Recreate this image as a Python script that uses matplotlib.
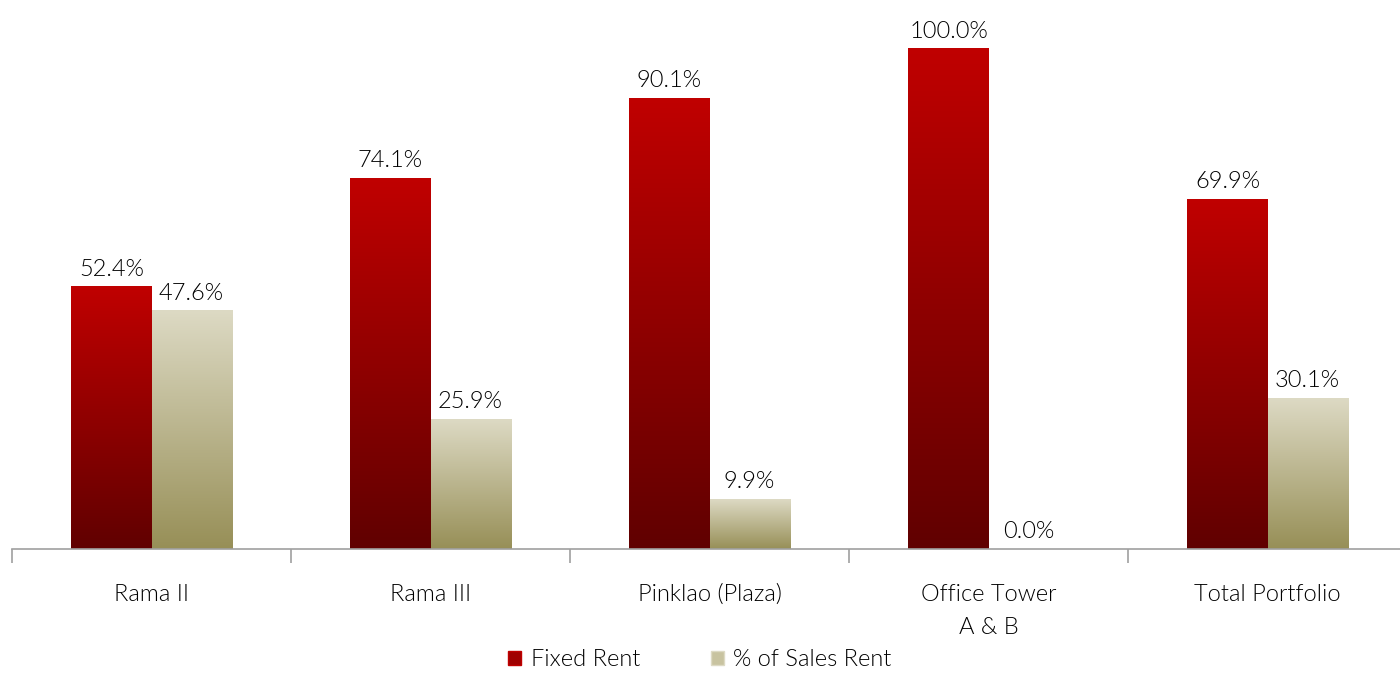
import numpy as np
import matplotlib.pyplot as plt
from matplotlib.colors import LinearSegmentedColormap
from matplotlib.patches import Patch

# Data
categories = ['Rama II', 'Rama III', 'Pinklao (Plaza)', 'Office Tower\nA & B', 'Total Portfolio']
fixed_rent = [52.4, 74.1, 90.1, 100.0, 69.9]
sales_rent = [47.6, 25.9, 9.9, 0.0, 30.1]

red_cmap = LinearSegmentedColormap.from_list('red', ['#600000', '#C00000'])
tan_cmap = LinearSegmentedColormap.from_list('tan', ['#978F57', '#DDDAC4'])

plt.rcParams['font.family'] = ['Lato', 'DejaVu Sans']
txt_color = '#000000'
wt = 300

fig = plt.figure(figsize=(14, 6.73), dpi=100)
ax = fig.add_axes([12 / 1400, 124 / 673, 1395 / 1400, 549 / 673])

width = 0.287
x = np.arange(len(categories))
grad = np.linspace(0, 1, 256).reshape(-1, 1)


def gradient_bars(xs, vals, cmap):
    for xi, v in zip(xs, vals):
        if v <= 0:
            continue
        ax.imshow(grad, extent=[xi - width / 2, xi + width / 2, 0, v],
                  origin='lower', aspect='auto', cmap=cmap, zorder=2)


gradient_bars(x - width / 2, fixed_rent, red_cmap)
gradient_bars(x + width / 2, sales_rent, tan_cmap)

for xi, v in zip(x - width / 2, fixed_rent):
    ax.text(xi, v + 1.4, f'{v:.1f}%', ha='center', va='bottom',
            fontsize=17, fontweight=wt, color=txt_color)
for xi, v in zip(x + width / 2, sales_rent):
    ax.text(xi, v + 1.4, f'{v:.1f}%', ha='center', va='bottom',
            fontsize=17, fontweight=wt, color=txt_color)

ax.set_xlim(-0.5, len(categories) - 0.5)
ax.set_ylim(0, 109.8)

for s in ['top', 'right', 'left']:
    ax.spines[s].set_visible(False)
ax.spines['bottom'].set_color('#A0A0A0')
ax.spines['bottom'].set_linewidth(1.2)
ax.set_yticks([])

ax.set_xticks(x)
ax.set_xticklabels(categories, fontsize=17, fontweight=wt, color=txt_color,
                   linespacing=1.7)
ax.tick_params(axis='x', which='major', length=0, pad=25)
ax.set_xticks(np.arange(-0.5, len(categories)), minor=True)
ax.tick_params(axis='x', which='minor', length=10, color='#A0A0A0', width=1.2)

handles = [Patch(facecolor='#A00000', edgecolor='#C00000'),
           Patch(facecolor='#C8C3A0', edgecolor='#DDDAC4')]
fig.legend(handles, ['Fixed Rent', '% of Sales Rent'], loc='center',
           bbox_to_anchor=(0.5, 13 / 673), ncol=2, frameon=False,
           handlelength=0.55, handleheight=0.55, handletextpad=0.4,
           columnspacing=3.0, prop={'size': 17, 'weight': wt})

fig.savefig('out.png', dpi=100)
